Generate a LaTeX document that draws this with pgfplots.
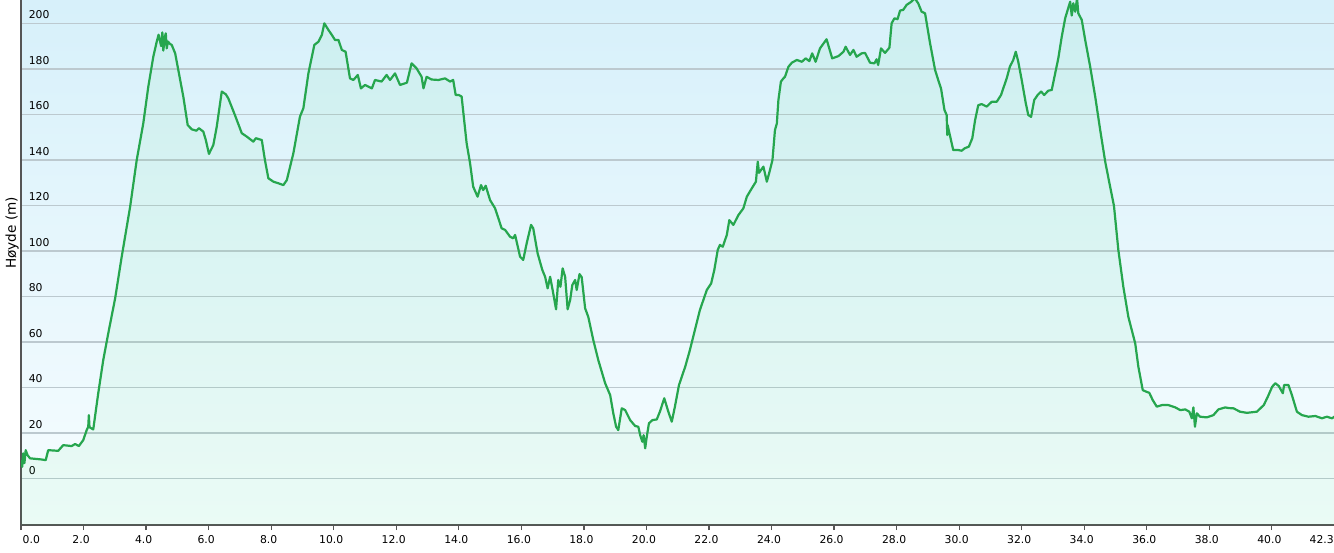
\documentclass[border=0pt]{standalone}
\usepackage{fontspec}
\setmainfont{DejaVu Sans}
\usepackage{pgfplots}
\pgfplotsset{compat=1.18}
\usepackage{pgfplotstable}
\definecolor{bgtop}{RGB}{214,240,250}
\definecolor{bgbot}{RGB}{247,253,255}
\definecolor{lineg}{RGB}{38,166,78}
\definecolor{fillg}{RGB}{40,220,90}
\definecolor{gridc}{RGB}{188,201,207}
\definecolor{axc}{RGB}{85,85,85}

\pgfplotstableread{
km m
0.00 8
0.04 5.1
0.07 11
0.11 6.7
0.15 12.4
0.21 10.2
0.29 8.8
0.66 8.3
0.79 8.0
0.87 12.4
1.19 12.1
1.35 14.6
1.62 14.2
1.73 15.1
1.85 14.2
1.99 16.8
2.10 21.2
2.15 22.7
2.17 27.8
2.19 22.5
2.31 21.5
2.47 37.4
2.63 52
2.79 63.7
3.01 79.1
3.22 97.4
3.49 119.4
3.70 139.9
3.91 156
4.07 172.1
4.23 185.3
4.34 191.9
4.40 195
4.45 192
4.48 190
4.52 196
4.55 188
4.60 194
4.63 195.6
4.66 189
4.70 192
4.76 191
4.82 190.5
4.93 186.8
5.03 179.5
5.19 167.8
5.33 155.3
5.46 153.4
5.61 152.8
5.69 153.9
5.83 152.4
5.91 148.7
6.01 142.6
6.15 146.5
6.26 154.6
6.42 170
6.55 168.8
6.63 167
6.84 159.7
7.06 151.7
7.22 150.2
7.43 148
7.51 149.5
7.70 148.7
7.80 139.9
7.91 131.9
8.07 130.4
8.23 129.7
8.39 128.9
8.50 131.1
8.71 142.9
8.92 159
9.03 162.7
9.19 178
9.38 190.5
9.51 191.9
9.62 194.9
9.70 200
9.83 197.1
9.94 194.9
10.04 192.7
10.15 192.7
10.26 188.3
10.38 187.5
10.52 175.8
10.63 175.1
10.77 177.3
10.87 171.4
11.00 172.9
11.22 171.4
11.32 175.1
11.53 174.4
11.69 177.3
11.80 175.1
11.96 178
12.12 172.9
12.34 173.9
12.49 182.4
12.65 180.2
12.81 176.5
12.87 171.4
12.97 176.5
13.13 175.3
13.35 175.1
13.56 175.8
13.72 174.4
13.82 175.1
13.90 168.5
14.00 168.5
14.09 167.8
14.25 147.3
14.36 138.5
14.46 128.2
14.60 123.8
14.71 128.9
14.78 126.7
14.86 128.6
15.00 122.3
15.16 118.7
15.37 109.9
15.48 109.2
15.64 106.2
15.74 105.5
15.80 107
15.96 97.4
16.06 96
16.17 103.3
16.31 111.4
16.38 109.9
16.52 98.9
16.67 91.6
16.76 88.6
16.84 83.5
16.92 88.6
17.00 82.8
17.11 74.3
17.18 87.2
17.25 84.2
17.32 92.3
17.40 88.6
17.48 74.3
17.56 78.4
17.63 85
17.72 87.2
17.77 82.8
17.86 89.8
17.93 88.4
18.04 74.7
18.14 71
18.30 60.8
18.46 52
18.68 41.8
18.84 36.6
18.94 28.6
19.03 22.7
19.10 21.2
19.21 30.8
19.32 30
19.48 25.6
19.64 23
19.74 22.7
19.80 19
19.87 16.1
19.91 19
19.96 13.2
20.01 18.3
20.08 24.2
20.19 25.6
20.33 25.9
20.43 29.3
20.57 35.2
20.70 29.3
20.81 24.9
20.91 31.5
21.04 41
21.24 49.1
21.39 56.4
21.55 65.2
21.71 74
21.93 82.8
22.07 85.7
22.17 91.6
22.28 100.4
22.35 102.6
22.44 101.8
22.57 107
22.65 113.5
22.78 111.4
22.94 115.7
23.10 118.7
23.21 123.8
23.37 127.5
23.50 130.4
23.56 139.2
23.60 134.3
23.74 137
23.85 130.4
23.95 135.5
24.03 139.9
24.11 153.1
24.17 156
24.22 166.3
24.30 174.4
24.38 175.8
24.43 176.5
24.54 180.9
24.65 182.7
24.81 183.9
24.97 183.1
25.09 184.6
25.21 183.4
25.30 186.8
25.41 183.1
25.55 189
25.76 193
25.94 184.6
26.14 185.6
26.30 187.5
26.37 189.7
26.51 186.1
26.62 188.3
26.72 185.3
26.88 186.8
26.99 187
27.15 182.7
27.29 182.4
27.36 184.2
27.41 181.7
27.50 189
27.63 187
27.77 189.3
27.84 200
27.93 202.2
28.03 201.8
28.11 205.6
28.21 205.9
28.32 208.1
28.47 209.5
28.58 211
28.69 208.8
28.80 205.1
28.91 204.4
29.07 191.2
29.23 179.5
29.33 175.1
29.42 171.4
29.53 161.9
29.60 159.7
29.62 150.9
29.63 155.3
29.81 144.3
29.97 144.3
30.08 144
30.18 145.1
30.31 145.8
30.42 149.5
30.51 157.5
30.61 164
30.72 164.5
30.88 163.4
31.04 165.5
31.20 165.5
31.34 168.5
31.41 171.4
31.52 175.8
31.62 180.9
31.73 183.9
31.81 187.5
31.89 183.1
32.00 175.1
32.13 164.9
32.21 159.7
32.30 158.9
32.40 166.3
32.51 168.5
32.62 170
32.72 168.5
32.85 170.4
32.96 170.7
33.07 178
33.17 184.6
33.28 194.1
33.39 202.2
33.47 205.9
33.55 209.5
33.60 203.4
33.65 208.8
33.71 205.1
33.77 211
33.81 204.4
33.92 201.5
34.03 192.7
34.19 180.9
34.35 167.8
34.51 153.1
34.67 139.2
34.83 128
34.95 119.8
35.09 100.4
35.25 84.2
35.41 71
35.63 59.3
35.73 49.1
35.87 38.8
35.98 38.1
36.08 37.6
36.19 34.4
36.32 31.5
36.48 32.2
36.69 32.2
36.91 31.2
37.07 30
37.23 30.3
37.36 29.3
37.44 26.4
37.49 31.2
37.54 22.7
37.60 28.6
37.70 27.1
37.92 26.8
38.13 27.8
38.29 30.3
38.51 31.2
38.61 30.9
38.77 30.8
38.98 29.3
39.20 28.8
39.52 29.3
39.74 32.2
39.87 35.9
40.01 40.3
40.11 41.8
40.22 40.6
40.35 37.4
40.39 41
40.53 41
40.64 36.6
40.80 29.3
40.96 27.8
41.17 27.1
41.39 27.4
41.60 26.4
41.76 27.1
41.92 26.4
42.00 27.1
42.30 27
}\elev

\begin{document}
\begin{tikzpicture}
\begin{axis}[
  scale only axis,
  width=661.4pt, height=267.9pt,
  xmin=0, xmax=42.3, ymin=-20.5, ymax=215,
  axis x line*=bottom, axis y line*=left,
  axis line style={axc, line width=0.8pt, -},
  axis background/.style={shade, top color=bgtop, bottom color=bgbot},
  clip mode=individual,
  ytick={0,20,40,60,80,100,120,140,160,180,200},
  ymajorgrids, major grid style={gridc, line width=0.7pt},
  ytick style={draw=none},
  yticklabel={\pgfmathprintnumber[assume math mode=true]{\tick}},
  yticklabel style={anchor=south west, inner sep=0pt, xshift=6.2pt, yshift=1.9pt, font=\fontsize{5.4}{6}\selectfont},
  xtick={0,2,4,6,8,10,12,14,16,18,20,22,24,26,28,30,32,34,36,38,40,42.3},
  xticklabels={\makebox[0pt][l]{\hspace{2.1pt}0.0},2.0,4.0,6.0,8.0,10.0,12.0,14.0,16.0,18.0,20.0,22.0,24.0,26.0,28.0,30.0,32.0,34.0,36.0,38.0,40.0,\makebox[0pt][r]{42.3\hspace{3.8pt}}},
  xticklabel style={anchor=north, inner sep=0pt, xshift=-1.25pt, yshift=-2.5pt, font=\fontsize{5.4}{6}\selectfont},
  tick align=outside, major tick length=2.5pt,
  xtick style={axc, line width=0.6pt},
  ylabel={Høyde (m)},
  ylabel style={at={(axis description cs:0,0.545)}, anchor=center, yshift=4.5pt, font=\fontsize{6.8}{7}\selectfont, inner sep=0pt},
]
\addplot[draw=none, fill=fillg, fill opacity=0.06] table[x=km,y=m]{\elev} -- (axis cs:42.3,-20.5) -- (axis cs:0,-20.5) -- cycle;
\addplot[lineg, line width=1.1pt, line join=round, mark=none] table[x=km,y=m]{\elev};
\coordinate (O) at (rel axis cs:0,0);
\end{axis}
\pgfresetboundingbox
\path[use as bounding box] (O) ++(-10.5pt,-13.5pt) rectangle ++(667pt,276pt);
\end{tikzpicture}
\end{document}
